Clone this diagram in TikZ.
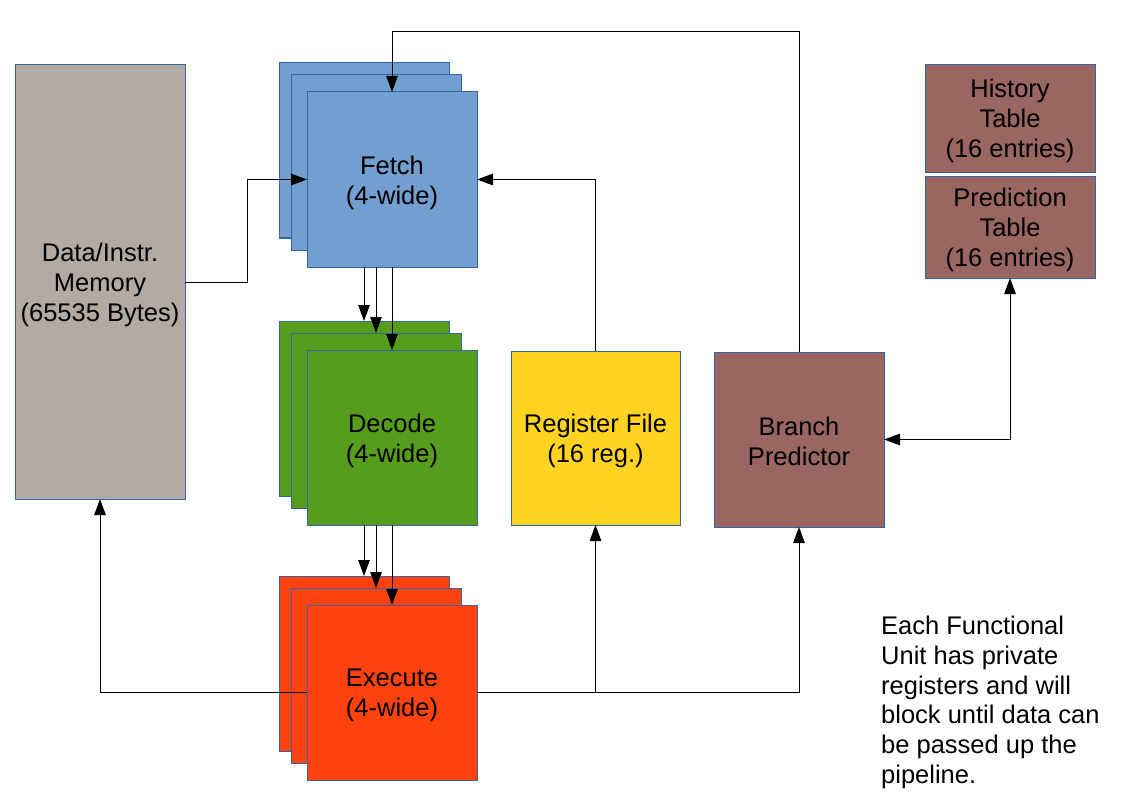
\documentclass[tikz,border=0pt]{standalone}
\usepackage{fontspec}
\setmainfont{Liberation Sans}
\usetikzlibrary{arrows.meta}
\definecolor{bordblue}{HTML}{3465A4}
\definecolor{fetchblue}{HTML}{729FCF}
\definecolor{decgreen}{HTML}{579D1C}
\definecolor{exered}{HTML}{FF420E}
\definecolor{regyellow}{HTML}{FFD320}
\definecolor{brpred}{HTML}{996661}
\definecolor{memgray}{HTML}{B2AAA3}
\begin{document}
\begin{tikzpicture}[x=1pt,y=-1pt,
  box/.style={draw=bordblue, line width=1pt, inner sep=0pt, outer sep=0pt},
  unit/.style={box, minimum width=170pt, minimum height=175pt},
  lbl/.style={inner sep=0pt, align=center, font=\fontsize{25.5}{30}\selectfont},
  arr/.style={draw=black, line width=1pt, -{Triangle[length=16pt,width=11.5pt]}},
  arrs/.style={draw=black, line width=1pt, {Triangle[length=16pt,width=11.5pt]}-{Triangle[length=16pt,width=11.5pt]}}]
\useasboundingbox (0,0) rectangle (1123,794);
\fill[white] (0,0) rectangle (1123,794);
% memory
\node[box, fill=memgray, minimum width=170pt, minimum height=434pt] (mem) at (100,282) {};
\node[lbl] (memL) at ([yshift=-3pt]mem.center) {Data/Instr.\\Memory\\(65535 Bytes)};
% fetch stack
\node[unit, fill=fetchblue] (fetA) at (364,150.5) {};
\node[unit, fill=fetchblue] (fetB) at (376,162.5) {};
\node[unit, fill=fetchblue] (fetch) at (392,179.5) {};
\node[lbl] (fetchL) at ([yshift=-3pt]fetch.center) {Fetch\\(4-wide)};
% decode stack
\node[unit, fill=decgreen] (decA) at (364,408.5) {};
\node[unit, fill=decgreen] (decB) at (376,420.5) {};
\node[unit, fill=decgreen] (dec) at (392,437.5) {};
\node[lbl] (decL) at ([yshift=-3pt]dec.center) {Decode\\(4-wide)};
% execute stack
\node[unit, fill=exered] (exeA) at (364,663.5) {};
\node[unit, fill=exered] (exeB) at (376,675.5) {};
% register file, branch predictor
\node[box, fill=regyellow, minimum width=169pt, minimum height=174pt] (reg) at (595.5,438) {};
\node[lbl] (regL) at ([yshift=-3pt]reg.center) {Register File\\(16 reg.)};
\node[unit, fill=brpred] (branch) at (799,439.5) {};
\node[lbl] (branchL) at ([yshift=-1.5pt]branch.center) {Branch\\Predictor};
\node[box, fill=brpred, minimum width=170pt, minimum height=108pt] (hist) at (1010,119) {};
\node[lbl] (histL) at ([yshift=-2pt]hist.center) {History\\Table\\(16 entries)};
\node[box, fill=brpred, minimum width=170pt, minimum height=101pt] (pred) at (1010,227.5) {};
\node[lbl] (predL) at ([yshift=-2pt]pred.center) {Prediction\\Table\\(16 entries)};
% note
\node[anchor=north west, inner sep=0pt, align=left, font=\fontsize{25.5}{29.7}\selectfont] (note) at (881,616)
  {Each Functional\\Unit has private\\registers and will\\block until data can\\be passed up the\\pipeline.};
% feedback lines (behind front execute box)
\coordinate (top) at (0,32);
\coordinate (mx) at (247,0);
\coordinate (fb) at (392,692.5);
\draw[arr] (fb) -| (mem.south);
\draw[arr] (fb) -| (branch.south);
\draw[arr] (fb -| reg.south) -- (reg.south);
\node[unit, fill=exered] (exe) at (392,692.5) {};
\node[lbl] (exeL) at ([yshift=-3pt]exe.center) {Execute\\(4-wide)};
% connectors
\draw[arr] (mem.east) -- (mem.east -| mx) |- (fetch.west);
\draw[arr] (reg.north) |- (fetch.east);
\draw[arr] (branch.north) -- (branch.north |- top) -- (fetch.north |- top) -- (fetch.north);
\draw[arrs] (branch.east) -| (pred.south);
\draw[arr] (fetch.south -| decA.north) -- (decA.north);
\draw[arr] (fetch.south -| decB.north) -- (decB.north);
\draw[arr] (fetch.south) -- (dec.north);
\draw[arr] (dec.south -| exeA.north) -- (exeA.north);
\draw[arr] (dec.south -| exeB.north) -- (exeB.north);
\draw[arr] (dec.south) -- (exe.north);
\end{tikzpicture}
\end{document}
